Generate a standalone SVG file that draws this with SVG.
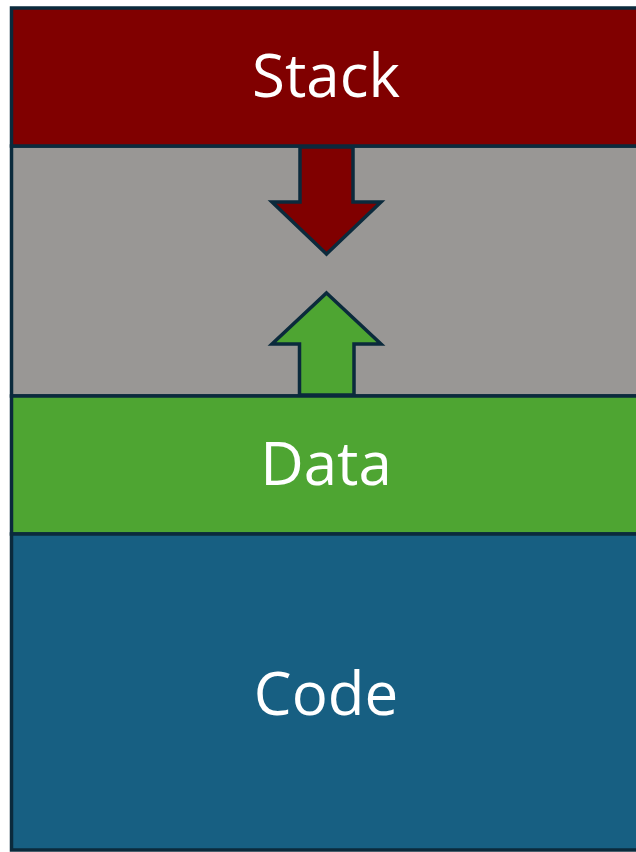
<svg xmlns="http://www.w3.org/2000/svg" width="636" height="852" viewBox="0 0 636 852">
  <style>
    .seg { stroke: #0b2a3c; stroke-width: 3.5; }
    .arrow { stroke: #0b2a3c; stroke-width: 3.5; stroke-linejoin: miter; }
    .label { font-family: "Open Sans", "Noto Sans", sans-serif; font-size: 60px; fill: #ffffff; text-anchor: middle; }
  </style>
  <rect width="636" height="852" fill="#ffffff"/>
  <g id="free">
    <rect class="seg" x="11.5" y="146" width="630" height="250" fill="#999795"/>
  </g>
  <g id="stack">
    <rect class="seg" x="11.5" y="8" width="630" height="138" fill="#800000"/>
    <text class="label" x="326" y="97">Stack</text>
  </g>
  <g id="data">
    <rect class="seg" x="11.5" y="396" width="630" height="138" fill="#4ea532"/>
    <text class="label" x="326" y="485">Data</text>
  </g>
  <g id="code">
    <rect class="seg" x="11.5" y="534" width="630" height="316" fill="#175f82"/>
    <text class="label" x="326" y="715">Code</text>
  </g>
  <g id="connectors">
    <polygon class="arrow" fill="#800000" points="300,147 353,147 353,202 381,202 326.5,254 272,202 300,202"/>
    <polygon class="arrow" fill="#4ea532" points="326.5,293 381,344 354,344 354,395 299.5,395 299.5,344 272,344"/>
  </g>
</svg>
